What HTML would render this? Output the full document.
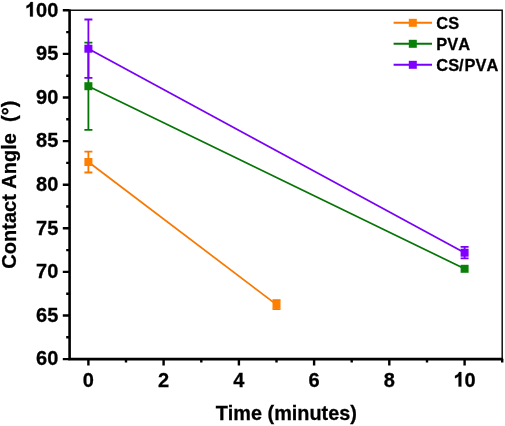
<!DOCTYPE html><html><head><meta charset="utf-8"><style>html,body{margin:0;padding:0;background:#fff}svg{display:block;will-change:transform}text{font-family:"Liberation Sans",sans-serif;font-weight:bold;fill:#000;stroke:#000;stroke-width:0.28px;font-kerning:none}</style></head><body>
<svg width="505" height="426" viewBox="0 0 505 426">
<rect width="505" height="426" fill="#fff"/>
<polyline fill="none" stroke="#f87800" stroke-width="1.75" points="88.4,162.0 276.5,304.6"/>
<path d="M88.4 151.6V172.5M84.4 151.6H92.4M84.4 172.5H92.4" stroke="#f87800" stroke-width="1.8" fill="none"/>
<rect x="84.4" y="158.0" width="8" height="8" fill="#ff8000"/>
<path d="M276.5 300.1V309.2M272.5 300.1H280.5M272.5 309.2H280.5" stroke="#f87800" stroke-width="1.8" fill="none"/>
<rect x="272.5" y="300.6" width="8" height="8" fill="#ff8000"/>
<polyline fill="none" stroke="#067406" stroke-width="1.75" points="88.4,86.2 464.6,268.8"/>
<path d="M88.4 42.6V129.8M84.4 42.6H92.4M84.4 129.8H92.4" stroke="#067406" stroke-width="1.8" fill="none"/>
<rect x="84.4" y="82.2" width="8" height="8" fill="#0a800a"/>
<rect x="460.6" y="264.8" width="8" height="8" fill="#0a800a"/>
<polyline fill="none" stroke="#7800f6" stroke-width="1.75" points="88.4,48.7 464.6,252.7"/>
<path d="M88.4 19.5V77.9M84.4 19.5H92.4M84.4 77.9H92.4" stroke="#7800f6" stroke-width="1.8" fill="none"/>
<rect x="84.4" y="44.7" width="8" height="8" fill="#8000ff"/>
<path d="M464.6 246.9V258.4M460.6 246.9H468.6M460.6 258.4H468.6" stroke="#7800f6" stroke-width="1.8" fill="none"/>
<rect x="460.6" y="248.7" width="8" height="8" fill="#8000ff"/>
<path d="M69.6 10.3H502.2V359.15" fill="none" stroke="#111" stroke-width="1.5"/>
<path d="M69.6 9.55V359.15H503.09999999999997" fill="none" stroke="#000" stroke-width="2.6"/>
<path d="M62.8 359.1H69.6M62.8 315.5H69.6M62.8 271.9H69.6M62.8 228.3H69.6M62.8 184.7H69.6M62.8 141.1H69.6M62.8 97.5H69.6M62.8 53.9H69.6M62.8 10.3H69.6M66.2 337.3H69.6M66.2 293.7H69.6M66.2 250.1H69.6M66.2 206.5H69.6M66.2 162.9H69.6M66.2 119.3H69.6M66.2 75.7H69.6M66.2 32.1H69.6M88.4 359.1V365.6M163.6 359.1V365.6M238.9 359.1V365.6M314.1 359.1V365.6M389.3 359.1V365.6M464.6 359.1V365.6M126.0 359.1V362.4M201.3 359.1V362.4M276.5 359.1V362.4M351.7 359.1V362.4M427.0 359.1V362.4M502.2 359.1V362.4" stroke="#000" stroke-width="2.4" fill="none"/>
<text x="58.3" y="365.3" font-size="20" text-anchor="end">60</text>
<text x="58.3" y="321.7" font-size="20" text-anchor="end">65</text>
<text x="58.3" y="278.1" font-size="20" text-anchor="end">70</text>
<text x="58.3" y="234.5" font-size="20" text-anchor="end">75</text>
<text x="58.3" y="190.9" font-size="20" text-anchor="end">80</text>
<text x="58.3" y="147.3" font-size="20" text-anchor="end">85</text>
<text x="58.3" y="103.7" font-size="20" text-anchor="end">90</text>
<text x="58.3" y="60.1" font-size="20" text-anchor="end">95</text>
<path transform="translate(24.93 16.50) scale(0.009766 -0.009766)" d="M806 0H525V1059Q371 915 162 846V1101Q272 1137 401 1237.5Q530 1338 578 1472H806Z" fill="#000" stroke="#000" stroke-width="28.7"/>
<text x="58.3" y="16.5" font-size="20" text-anchor="end">00</text>
<text x="88.4" y="386.5" font-size="20" text-anchor="middle">0</text>
<text x="163.6" y="386.5" font-size="20" text-anchor="middle">2</text>
<text x="238.9" y="386.5" font-size="20" text-anchor="middle">4</text>
<text x="314.1" y="386.5" font-size="20" text-anchor="middle">6</text>
<text x="389.3" y="386.5" font-size="20" text-anchor="middle">8</text>
<path transform="translate(453.46 386.50) scale(0.009766 -0.009766)" d="M806 0H525V1059Q371 915 162 846V1101Q272 1137 401 1237.5Q530 1338 578 1472H806Z" fill="#000" stroke="#000" stroke-width="28.7"/>
<text x="464.6" y="386.5" font-size="20">0</text>
<text x="286.3" y="419.7" font-size="19.85" text-anchor="middle">Time (minutes)</text>
<text transform="translate(16.4 184.65) rotate(-90)" font-size="20" text-anchor="middle" xml:space="preserve">Contact Angle  (°)</text>
<path d="M393.6 22.8H432" stroke="#f87800" stroke-width="1.9"/>
<rect x="408.8" y="18.8" width="8" height="8" fill="#ff8000"/>
<text x="436.3" y="28.6" font-size="16.4">CS</text>
<path d="M393.6 43.8H432" stroke="#067406" stroke-width="1.9"/>
<rect x="408.8" y="39.8" width="8" height="8" fill="#0a800a"/>
<text x="436.3" y="49.6" font-size="16.4">PVA</text>
<path d="M393.6 64.8H432" stroke="#7800f6" stroke-width="1.9"/>
<rect x="408.8" y="60.8" width="8" height="8" fill="#8000ff"/>
<text x="436.3" y="70.6" font-size="16.4">CS/<tspan dx="0.9">PVA</tspan></text>
</svg></body></html>
